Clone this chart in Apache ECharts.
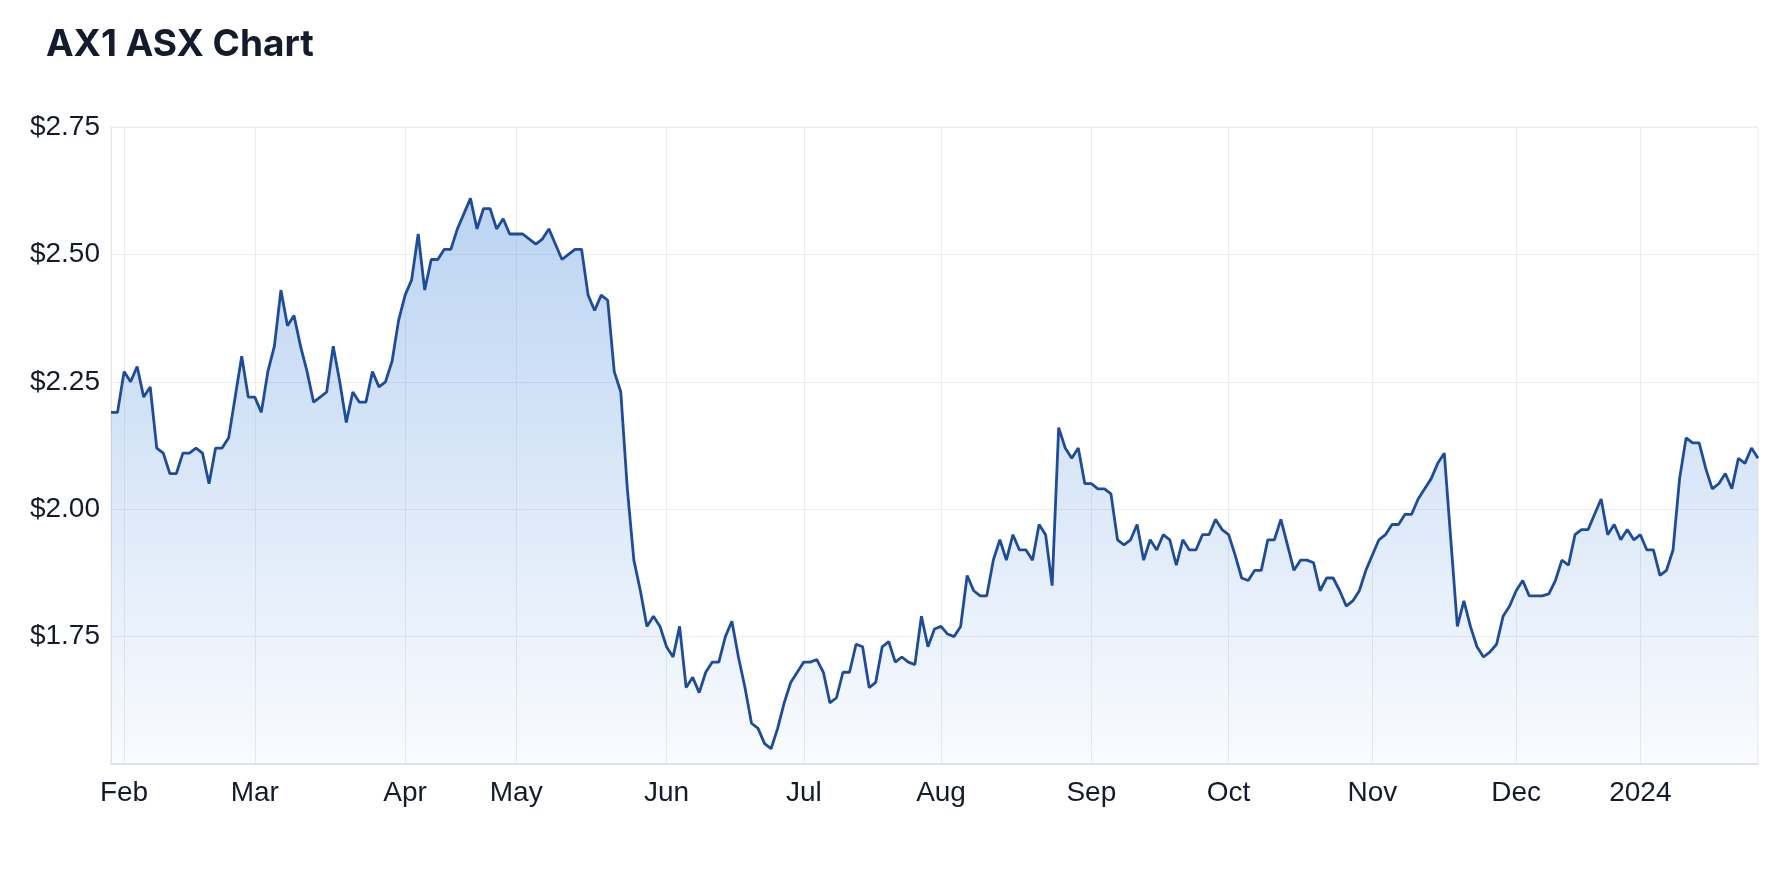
<!DOCTYPE html>
<html>
<head>
<meta charset="utf-8">
<title>AX1 ASX Chart</title>
<script src="https://cdn.jsdelivr.net/npm/echarts/dist/echarts.min.js"></script>
<style>
  html, body { margin: 0; padding: 0; background: #fff; }
  #chart { width: 1784px; height: 888px; }
</style>
</head>
<body>
<div id="chart"></div>
<script>
// x axis: month label and number of trading days in each month
const monthLabels = ['', 'Feb', 'Mar', 'Apr', 'May', 'Jun', 'Jul', 'Aug', 'Sep', 'Oct', 'Nov', 'Dec', '2024'];
const monthDays = [2, 20, 23, 17, 23, 21, 21, 23, 21, 22, 22, 19, 19];

// y axis ticks
const yTicks = [1.5, 1.75, 2.0, 2.25, 2.5, 2.75];

// daily close, one array per month
const pricesJan23 = [2.19, 2.19];
const pricesFeb = [2.27, 2.25, 2.28, 2.22, 2.24, 2.12, 2.11, 2.07, 2.07, 2.11,
  2.11, 2.12, 2.11, 2.05, 2.12, 2.12, 2.14, 2.22, 2.30, 2.22];
const pricesMar = [2.22, 2.19, 2.27, 2.32, 2.43, 2.36, 2.38, 2.32, 2.27, 2.21,
  2.22, 2.23, 2.32, 2.25, 2.17, 2.23, 2.21, 2.21, 2.27, 2.24,
  2.25, 2.29, 2.37];
const pricesApr = [2.42, 2.45, 2.54, 2.43, 2.49, 2.49, 2.51, 2.51, 2.55, 2.58,
  2.61, 2.55, 2.59, 2.59, 2.55, 2.57, 2.54];
const pricesMay = [2.54, 2.54, 2.53, 2.52, 2.53, 2.55, 2.52, 2.49, 2.50, 2.51,
  2.51, 2.42, 2.39, 2.42, 2.41, 2.27, 2.23, 2.04, 1.90, 1.84,
  1.77, 1.79, 1.77];
const pricesJun = [1.73, 1.71, 1.77, 1.65, 1.67, 1.64, 1.68, 1.70, 1.70, 1.75,
  1.78, 1.71, 1.65, 1.58, 1.57, 1.54, 1.53, 1.57, 1.62, 1.66,
  1.68];
const pricesJul = [1.70, 1.70, 1.705, 1.68, 1.62, 1.63, 1.68, 1.68, 1.735, 1.73,
  1.65, 1.66, 1.73, 1.74, 1.70, 1.71, 1.70, 1.695, 1.79, 1.73,
  1.765];
const pricesAug = [1.77, 1.755, 1.75, 1.77, 1.87, 1.84, 1.83, 1.83, 1.90, 1.94,
  1.90, 1.95, 1.92, 1.92, 1.90, 1.97, 1.95, 1.85, 2.16, 2.12,
  2.10, 2.12, 2.05];
const pricesSep = [2.05, 2.04, 2.04, 2.03, 1.94, 1.93, 1.94, 1.97, 1.90, 1.94,
  1.92, 1.95, 1.94, 1.89, 1.94, 1.92, 1.92, 1.95, 1.95, 1.98,
  1.96];
const pricesOct = [1.95, 1.91, 1.865, 1.86, 1.88, 1.88, 1.94, 1.94, 1.98, 1.93,
  1.88, 1.90, 1.90, 1.895, 1.84, 1.865, 1.865, 1.84, 1.81, 1.82,
  1.84, 1.88];
const pricesNov = [1.91, 1.94, 1.95, 1.97, 1.97, 1.99, 1.99, 2.02, 2.04, 2.06,
  2.09, 2.11, 1.94, 1.77, 1.82, 1.77, 1.73, 1.71, 1.72, 1.735,
  1.79, 1.81];
const pricesDec = [1.84, 1.86, 1.83, 1.83, 1.83, 1.834, 1.86, 1.90, 1.89, 1.95,
  1.96, 1.96, 1.99, 2.02, 1.95, 1.97, 1.94, 1.96, 1.94];
const pricesJan24 = [1.95, 1.92, 1.92, 1.87, 1.88, 1.92, 2.06, 2.14, 2.13, 2.13,
  2.08, 2.04, 2.05, 2.07, 2.04, 2.10, 2.09, 2.12, 2.10];

const prices = [].concat(pricesJan23, pricesFeb, pricesMar, pricesApr, pricesMay,
  pricesJun, pricesJul, pricesAug, pricesSep, pricesOct, pricesNov, pricesDec, pricesJan24);

// one category per trading day, month name on the first day
const categories = [];
const monthStart = new Set();
monthLabels.forEach((m, i) => {
  for (let d = 0; d < monthDays[i]; d++) {
    if (d === 0 && m) monthStart.add(categories.length);
    categories.push(m + '#' + d);
  }
});
const isMonthStart = (idx) => monthStart.has(idx);

const labelFont = "'Liberation Sans', Arial, Helvetica, sans-serif";
const chart = echarts.init(document.getElementById('chart'));

const option = {
  animation: false,
  backgroundColor: '#fff',
  title: {
    text: 'AX1 ASX Chart',
    left: 41,
    top: 21,
    textStyle: {
      fontFamily: 'Inter, sans-serif',
      fontSize: 37,
      fontWeight: 'bold',
      color: '#141b2d'
    }
  },
  grid: {
    left: 111,
    right: 26,
    top: 127,
    bottom: 124,
    show: true,
    borderColor: '#ececec',
    borderWidth: 1
  },
  xAxis: {
    type: 'category',
    data: categories,
    boundaryGap: false,
    axisLine: { lineStyle: { color: '#e2e2e2', width: 2 } },
    axisTick: { show: false },
    axisLabel: {
      interval: isMonthStart,
      formatter: (v) => v.split('#')[0],
      color: '#141b2d',
      fontFamily: labelFont,
      fontSize: 28,
      margin: 15
    },
    splitLine: {
      show: true,
      interval: isMonthStart,
      lineStyle: { color: '#ececec', width: 1 }
    }
  },
  yAxis: {
    type: 'value',
    min: yTicks[0],
    max: yTicks[yTicks.length - 1],
    interval: 0.25,
    axisLine: { show: true, lineStyle: { color: '#e6e6e6' } },
    axisTick: { show: false },
    axisLabel: {
      showMinLabel: false,
      formatter: (v) => '$' + v.toFixed(2),
      color: '#141b2d',
      fontFamily: labelFont,
      fontSize: 28,
      margin: 11
    },
    splitLine: { lineStyle: { color: '#ececec', width: 1 } }
  },
  series: [
    {
      type: 'line',
      data: prices,
      showSymbol: false,
      lineStyle: { color: '#1e4c9b', width: 2.8 },
      itemStyle: { color: '#1e4c9b' },
      areaStyle: {
        opacity: 1,
        // gradient over the whole plot height, darker at the top
        color: new echarts.graphic.LinearGradient(0, 127, 0, 764, [
          { offset: 0, color: 'rgba(75, 140, 222, 0.42)' },
          { offset: 1, color: 'rgba(75, 140, 222, 0.03)' }
        ], true)
      }
    }
  ]
};

chart.setOption(option);
window.addEventListener('resize', () => chart.resize());
</script>
</body>
</html>
